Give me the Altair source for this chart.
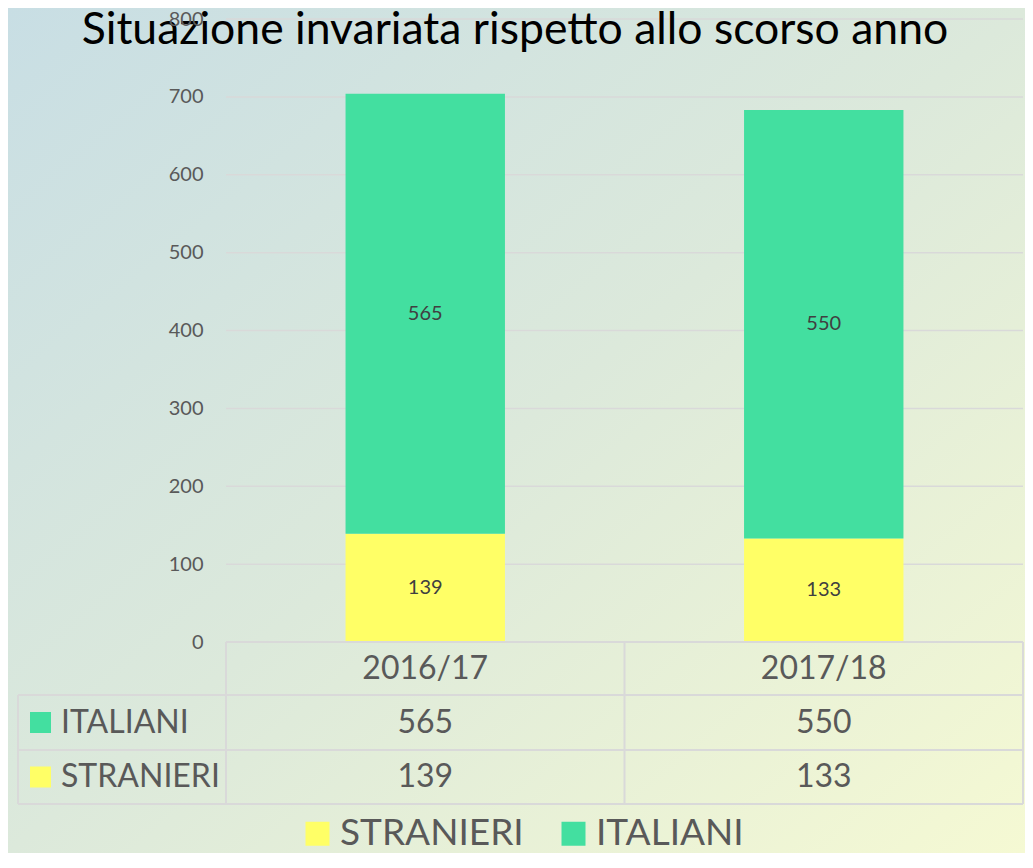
import altair as alt
import pandas as pd

# ---- data ----
years = ["2016/17", "2017/18"]
italiani = [565, 550]
stranieri = [139, 133]
groups = ["STRANIERI", "ITALIANI"]          # bottom -> top in the stack, legend order
table_rows = ["ITALIANI", "STRANIERI"]      # order of rows in the data table
group_colors = ["#FFFF66", "#43DFA0"]
y_ticks = [0, 100, 200, 300, 400, 500, 600, 700, 800]
title_text = "Situazione invariata rispetto allo scorso anno"

rows = []
for i, yr in enumerate(years):
    rows.append({"year": yr, "group": "STRANIERI", "value": stranieri[i], "ord": 0})
    rows.append({"year": yr, "group": "ITALIANI", "value": italiani[i], "ord": 1})
df = pd.DataFrame(rows)

# ---- layout (pixels, relative to the plot area) ----
PW, PH = 797, 623
PAD_L, PAD_T = 218, 11
SVG_W, SVG_H = 1017, 845
FONT = "Lato"
GRID = "#D9D9D9"
TXT = "#595959"

xscale = alt.Scale(domain=years, paddingInner=0.6, paddingOuter=0.3)
yscale = alt.Scale(domain=[0, 800], nice=False, zero=True)
cscale = alt.Scale(domain=groups, range=group_colors)

yaxis = alt.Axis(values=y_ticks, domain=False, ticks=False, grid=False,
                 labelFontSize=20, labelFont=FONT, labelColor=TXT,
                 labelPadding=23, zindex=1, title=None)

one = pd.DataFrame({"k": [0]})

# background gradient
bg = alt.Chart(one).mark_rect(
    fill=alt.Gradient(
        gradient="linear",
        stops=[
            alt.GradientStop(color="#C8DEE4", offset=0),
            alt.GradientStop(color="#DCE9DB", offset=0.5),
            alt.GradientStop(color="#F5F9D3", offset=1),
        ],
        x1=0, y1=0, x2=1, y2=1,
    )
).encode(
    x=alt.value(-PAD_L), x2=alt.value(SVG_W - PAD_L),
    y=alt.value(-PAD_T), y2=alt.value(SVG_H - PAD_T),
)

# gridlines
grid = alt.Chart(pd.DataFrame({"t": y_ticks})).mark_rule(
    color=GRID, strokeWidth=1.5
).encode(
    y=alt.Y("t:Q", scale=yscale, axis=yaxis, title=None),
    x=alt.value(0), x2=alt.value(PW),
)

base = alt.Chart(df).transform_stack(
    stack="value", groupby=["year"], as_=["v0", "v1"],
    sort=[alt.SortField("ord", order="ascending")],
).transform_calculate(mid="(datum.v0 + datum.v1) / 2")

bars = base.mark_bar().encode(
    x=alt.X("year:N", scale=xscale, title=None,
            axis=alt.Axis(labelFontSize=32, labelFont=FONT, labelColor=TXT,
                          domain=False, ticks=False, tickSize=0, labelAngle=0,
                          labelPadding=26.5, labelBaseline="middle", zindex=1)),
    y=alt.Y("v0:Q", scale=yscale, title=None, axis=yaxis),
    y2="v1:Q",
    color=alt.Color("group:N", scale=cscale,
                    legend=alt.Legend(orient="none", legendX=73, legendY=796,
                                      direction="horizontal", title=None,
                                      symbolType="square", symbolSize=576,
                                      symbolStrokeWidth=0, labelFontSize=37,
                                      labelFont=FONT, labelColor=TXT,
                                      labelOffset=4, columnPadding=31,
                                      labelLimit=0, padding=0)),
)

bar_labels = base.mark_text(fontSize=20, font=FONT, color="#404040").encode(
    x=alt.X("year:N", scale=xscale),
    y=alt.Y("mid:Q", scale=yscale, axis=yaxis),
    text="value:Q",
)

title = alt.Chart(pd.DataFrame({"t": [title_text]})).mark_text(
    fontSize=44.5, font=FONT, color="#000000", align="center", baseline="alphabetic"
).encode(x=alt.value(289), y=alt.value(25), text="t:N")

# ---- data table under the plot ----
row_y = {"ITALIANI": 703.5, "STRANIERI": 758}
layers = [bg, grid, bars, bar_labels]

def hline(y, x1, x2):
    return alt.Chart(one).mark_rule(color=GRID, strokeWidth=2).encode(
        y=alt.value(y), x=alt.value(x1), x2=alt.value(x2))

def vline(x, y1, y2):
    return alt.Chart(one).mark_rule(color=GRID, strokeWidth=2).encode(
        x=alt.value(x), y=alt.value(y1), y2=alt.value(y2))

layers += [
    hline(PH, 0, PW), hline(676, -208, PW), hline(731, -208, PW), hline(785, -208, PW),
    vline(-208, 676, 785), vline(0, PH, 785), vline(PW / 2, PH, 785), vline(PW, PH, 785),
]

lab_df = pd.DataFrame({"group": groups, "color": group_colors})
for g in table_rows:
    gy = row_y[g]
    layers.append(
        alt.Chart(df).transform_filter(alt.datum.group == g).mark_text(
            fontSize=32, font=FONT, color=TXT, baseline="middle"
        ).encode(x=alt.X("year:N", scale=xscale), y=alt.value(gy), text="value:Q")
    )
    layers.append(
        alt.Chart(lab_df).transform_filter(alt.datum.group == g).mark_text(
            fontSize=32, font=FONT, color=TXT, align="left", baseline="middle"
        ).encode(x=alt.value(-165), y=alt.value(gy), text="group:N")
    )
    layers.append(
        alt.Chart(lab_df).transform_filter(alt.datum.group == g).mark_square(
            size=441, opacity=1, filled=True
        ).encode(x=alt.value(-185.5), y=alt.value(gy), fill=alt.Fill("color:N", scale=None))
    )

layers.append(title)

chart = alt.layer(*layers).properties(
    width=PW, height=PH,
    autosize=alt.AutoSizeParams(type="none"),
    padding={"left": PAD_L, "top": PAD_T, "right": SVG_W - PAD_L - PW,
             "bottom": SVG_H - PAD_T - PH},
).configure_view(stroke=None).configure(background="transparent")

chart.save("out.html", embed_options={"renderer": "svg", "actions": False})
